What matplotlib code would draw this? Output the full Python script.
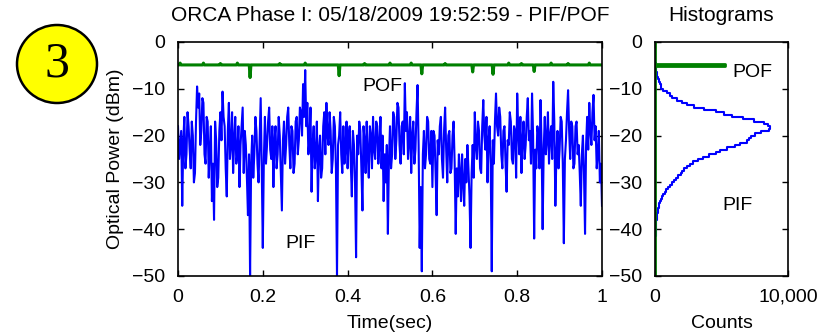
import numpy as np
import matplotlib
matplotlib.use("Agg")
import matplotlib.pyplot as plt
from matplotlib.patches import Ellipse
from matplotlib.ticker import FuncFormatter

plt.rcParams['font.family'] = ['Liberation Sans', 'DejaVu Sans']

# PIF optical power trace, one value every 2.5 ms (dBm)
pif_db = [
    -18, -25, -22, -19, -35, -21, -16, -27, -24, -15, -18, -23, -27, -17, -20, -30, -28, -17, -9.5, -14,
    -11, -22, -19, -12, -13, -24, -26, -16, -17, -29, -23, -18, -34, -26, -38, -17, -21, -31, -29, -19,
    -15, -21, -10.6, -16, -18, -27, -33, -19, -13, -25, -22, -15, -28, -21, -16, -26, -24, -18, -31, -22,
    -18, -14, -28, -19, -22, -29, -37, -24, -50, -26, -20, -29, -24, -16, -19, -26, -30, -21, -12, -27,
    -44, -25, -16, -26, -22, -17, -14, -23, -25, -18, -31, -21, -18, -27, -24, -16, -20, -28, -36, -21,
    -17, -26, -22, -16, -14, -22, -27, -18, -19, -28, -26, -17, -16, -24, -21, -14, -15, -20, -9, -16,
    -6, -18, -13, -24, -21, -14, -32, -22, -18, -27, -24, -17, -34, -23, -20, -29, -27, -18, -15, -24,
    -13, -20, -22, -15, -19, -28, -25, -16, -18, -27, -50, -22, -20, -15, -24, -28, -18, -26, -23, -17,
    -27, -20, -18, -26, -33, -19, -22, -30, -46, -20, -24, -17, -19, -27, -36, -18, -21, -28, -17, -24,
    -29, -18, -20, -27, -16, -23, -25, -17, -18, -26, -22, -16, -27, -20, -34, -24, -30, -22, -41, -25,
    -18, -27, -24, -15, -16, -25, -21, -13, -14, -22, -26, -18, -17, -24, -8.8, -19, -15, -25, -21, -16,
    -28, -20, -17, -26, -23, -15, -9.2, -22, -44, -31, -49, -24, -19, -27, -24, -16, -17, -25, -26, -19,
    -31, -19, -20, -28, -37, -21, -24, -18, -16, -25, -29, -19, -14, -23, -30, -20, -19, -28, -27, -20,
    -17, -26, -41, -27, -33, -24, -28, -34, -24, -30, -35, -25, -30, -22, -27, -33, -44, -28, -22, -29,
    -15, -22, -25, -17, -19, -27, -28, -18, -12.4, -20, -23, -16, -30, -21, -18, -26, -49, -21, -26, -17,
    -11, -18, -20, -14, -16, -24, -27, -19, -18, -26, -32, -21, -22, -15, -17, -25, -26, -18, -19, -29,
    -11, -19, -24, -16, -28, -21, -17, -25, -22, -16, -12, -21, -19, -26, -11, -20, -42, -23, -27, -18,
    -20, -27, -12.4, -22, -40, -23, -16, -24, -21, -15, -26, -20, -18, -25, -8.5, -17, -35, -24, -19, -27,
    -23, -16, -17, -26, -43, -25, -21, -15, -10.3, -19, -25, -17, -18, -27, -26, -18, -17, -24, -22, -28,
    -35, -24, -20, -28, -41, -22, -16, -23, -13, -19, -22, -15, -11.3, -21, -18, -27, -24, -19, -30, -26,
    -35,
]
pif_time = np.linspace(0, 1, len(pif_db))

# POF trace: steady level with short glitches
pof_base = -4.9
pof_event_t = [0.005, 0.06, 0.1, 0.14, 0.17, 0.24, 0.3, 0.38, 0.44, 0.5, 0.55,
               0.575, 0.63, 0.695, 0.743, 0.78, 0.81, 0.84, 0.88, 0.92, 0.97]
pof_event_db = [-4.5, -4.5, -4.6, -4.5, -7.6, -4.6, -4.5, -7.2, -4.6, -4.5, -4.5,
                -6.8, -4.6, -6.4, -6.9, -4.5, -4.6, -6.3, -4.5, -4.6, -4.5]

# PIF histogram, 0.5 dB bins from -4 to -50 dBm
pif_hist_counts = [
    0, 0, 120, 60, 80, 100, 150, 200, 250, 350,
    400, 450, 500, 700, 1100, 1200, 1400, 1900, 2200, 2600,
    3300, 4100, 5000, 5400, 6200, 7100, 7800, 8600, 8400, 8900,
    8300, 7600, 7400, 7000, 7200, 6600, 6200, 5800, 5000, 4800,
    4300, 3800, 3400, 3000, 2700, 2500, 2300, 2000, 2100, 1800,
    1700, 1500, 1400, 1200, 1000, 900, 750, 700, 550, 500,
    400, 350, 300, 250, 180, 200, 120, 150, 100, 90,
    120, 60, 80, 40, 60, 30, 20, 50, 10, 30,
    20, 10, 30, 0, 20, 10, 0, 20, 0, 10,
    0, 30, 10,
]
pif_hist_bins = np.linspace(-4, -50, len(pif_hist_counts))

# POF histogram: all counts in one bin near -5 dBm
pof_hist_bins = [0, -4.8, -4.8, -5.1, -5.1, -50]
pof_hist_counts = [0, 0, 5300, 5300, 0, 0]

title_main = "ORCA Phase I: 05/18/2009 19:52:59 - PIF/POF"
title_hist = "Histograms"

blue = (0, 0, 1)
green = (0, 0.5, 0)
fs = 14

# build the POF line: baseline with a narrow glitch at each event
pof_time, pof_db = [0.0], [pof_base]
for t, v in zip(pof_event_t, pof_event_db):
    pof_time += [t - 0.002, t, t + 0.002]
    pof_db += [pof_base, v, pof_base]
pof_time.append(1.0)
pof_db.append(pof_base)

fig = plt.figure(figsize=(8.33, 3.36), dpi=100)
ax = fig.add_axes([178 / 833, 1 - 276 / 336, 424 / 833, 234 / 336])
axh = fig.add_axes([655 / 833, 1 - 276 / 336, 133 / 833, 234 / 336])

ax.plot(pif_time, pif_db, color=blue, lw=1.5)
ax.plot(pof_time, pof_db, color=green, lw=2.2)
ax.set_xlim(0, 1)
ax.set_ylim(-50, 0)
ax.set_xticks([0, 0.2, 0.4, 0.6, 0.8, 1])
ax.set_xticklabels(["0", "0.2", "0.4", "0.6", "0.8", "1"])
ax.set_yticks([0, -10, -20, -30, -40, -50])
ax.set_title(title_main, fontsize=15, pad=15)
ax.set_xlabel("Time(sec)", fontsize=fs, labelpad=7)
ax.set_ylabel("Optical Power (dBm)", fontsize=fs, labelpad=6)
ax.text(0.483, -9.6, "POF", fontsize=fs, ha="center", va="center")
ax.text(0.29, -43, "PIF", fontsize=fs, ha="center", va="center")

axh.plot(pif_hist_counts, pif_hist_bins, color=blue, lw=1.5, drawstyle="steps-mid")
axh.plot(pof_hist_counts, pof_hist_bins, color=green, lw=2)
axh.set_xlim(0, 10000)
axh.set_ylim(-50, 0)
axh.set_xticks([0, 10000])
axh.xaxis.set_major_formatter(FuncFormatter(lambda v, p: f"{int(v):,}"))
axh.set_yticks([0, -10, -20, -30, -40, -50])
axh.set_title(title_hist, fontsize=15, pad=15)
axh.set_xlabel("Counts", fontsize=fs, labelpad=7)
axh.text(7300, -6.5, "POF", fontsize=fs, ha="center", va="center")
axh.text(6200, -35, "PIF", fontsize=fs, ha="center", va="center")

for a in (ax, axh):
    a.tick_params(direction="in", length=4, width=1, top=True, right=True,
                  labelsize=fs, pad=9)
    for s in a.spines.values():
        s.set_linewidth(1.2)

# numbered badge in the corner
badge = Ellipse((57 / 833, 1 - 64 / 336), 80 / 833, 78 / 336,
                transform=fig.transFigure, facecolor=(1, 1, 0),
                edgecolor="black", lw=1.8)
fig.patches.append(badge)
fig.text(57 / 833, 1 - 64 / 336, "3", fontsize=36, family="Liberation Serif",
         ha="center", va="center")

fig.savefig("out.png", dpi=100)
